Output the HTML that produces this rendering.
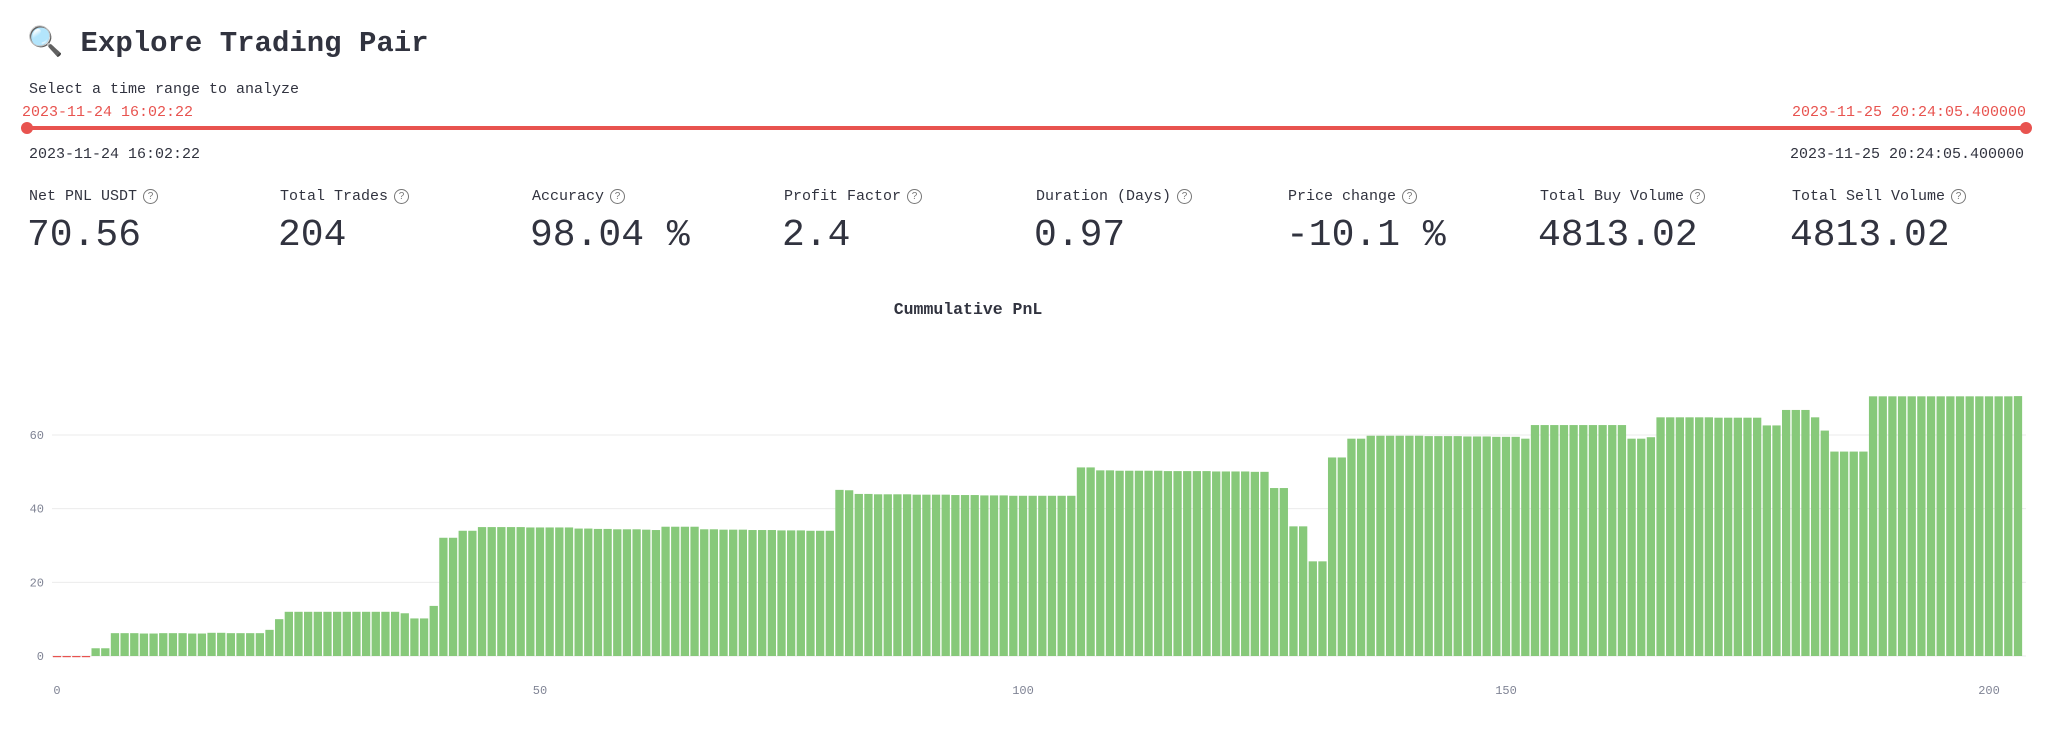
<!DOCTYPE html>
<html><head><meta charset="utf-8">
<style>
body{margin:0;background:#fff;width:2048px;height:729px;overflow:hidden;position:relative;font-family:"Liberation Mono","DejaVu Sans Mono",monospace;color:#31333f}
.abs{position:absolute;white-space:nowrap}
.lbl{font-size:15px;top:188px}
.val{font-size:38px;top:214px}
.q{display:inline-block;width:13px;height:13px;border:1.3px solid #777;border-radius:50%;font-size:10px;line-height:13px;text-align:center;color:#777;vertical-align:1px;margin-left:6px;font-family:"Liberation Sans",sans-serif}
</style></head><body>
<div class="abs" style="left:27px;top:25px;font-size:29px;font-weight:bold">🔍 Explore Trading Pair</div>
<div class="abs" style="left:29px;top:81px;font-size:15px">Select a time range to analyze</div>
<div class="abs" style="left:22px;top:104px;font-size:15px;color:#e8534f">2023-11-24 16:02:22</div>
<div class="abs" style="right:22px;top:104px;font-size:15px;color:#e8534f">2023-11-25 20:24:05.400000</div>
<div class="abs" style="left:27px;top:126px;width:1999px;height:4px;background:#e8534f"></div>
<div class="abs" style="left:21px;top:122px;width:12px;height:12px;border-radius:50%;background:#e8534f"></div>
<div class="abs" style="left:2020px;top:122px;width:12px;height:12px;border-radius:50%;background:#e8534f"></div>
<div class="abs" style="left:29px;top:146px;font-size:15px">2023-11-24 16:02:22</div>
<div class="abs" style="right:24px;top:146px;font-size:15px">2023-11-25 20:24:05.400000</div>

<div class="abs lbl" style="left:29px">Net PNL USDT<span class="q">?</span></div>
<div class="abs val" style="left:27px">70.56</div>
<div class="abs lbl" style="left:280px">Total Trades<span class="q">?</span></div>
<div class="abs val" style="left:278px">204</div>
<div class="abs lbl" style="left:532px">Accuracy<span class="q">?</span></div>
<div class="abs val" style="left:530px">98.04 %</div>
<div class="abs lbl" style="left:784px">Profit Factor<span class="q">?</span></div>
<div class="abs val" style="left:782px">2.4</div>
<div class="abs lbl" style="left:1036px">Duration (Days)<span class="q">?</span></div>
<div class="abs val" style="left:1034px">0.97</div>
<div class="abs lbl" style="left:1288px">Price change<span class="q">?</span></div>
<div class="abs val" style="left:1286px">-10.1 %</div>
<div class="abs lbl" style="left:1540px">Total Buy Volume<span class="q">?</span></div>
<div class="abs val" style="left:1538px">4813.02</div>
<div class="abs lbl" style="left:1792px">Total Sell Volume<span class="q">?</span></div>
<div class="abs val" style="left:1790px">4813.02</div>

<svg id="chart" class="abs" style="left:0;top:0" width="2048" height="729">
<text x="968" y="314" text-anchor="middle" font-size="16.5" font-weight="bold" fill="#31333f" font-family="Liberation Mono, monospace">Cummulative PnL</text>
</svg>
<script>
const categories = Array.from({length:204},(_,i)=>i);
const pnlValues = [-0.05,-0.05,-0.3,-0.3,2.1,2.1,
6.2,6.2,6.2,6.1,6.1,6.2,6.2,6.2,6.1,6.1,6.3,6.3,6.2,6.2,6.2,6.2,
7.1,10.0,
12.0,12.0,12.0,12.0,12.0,12.0,12.0,12.0,12.0,12.0,12.0,12.0,
11.6,10.2,10.2,13.6,32.1,32.1,34.0,34.0,35.0,35.0,35.0,35.0,35.0,
34.9,34.9,34.9,34.9,34.9,
34.6,34.6,34.5,34.5,34.4,34.4,34.4,34.3,34.2,
35.1,35.1,35.1,35.1,
34.4,34.4,34.3,34.3,34.3,34.2,34.2,34.2,34.1,34.1,34.1,34.0,34.0,34.0,
45.1,45.0,
44.0,44.0,43.9,43.9,43.9,43.9,43.8,43.8,43.8,43.8,43.7,43.7,43.7,43.6,43.6,43.6,43.5,43.5,
43.5,43.5,43.5,43.5,43.5,
51.2,51.2,
50.4,50.4,50.3,50.3,50.3,50.3,50.3,50.2,50.2,50.2,50.2,50.2,50.1,50.1,50.1,50.1,50.0,50.0,
45.6,45.6,35.2,35.2,25.7,25.7,53.9,53.9,59.0,59.0,
59.8,59.8,59.8,59.8,59.8,59.8,59.7,59.7,59.7,59.7,59.6,59.6,59.6,59.5,59.5,59.5,
59.0,
62.7,62.7,62.7,62.7,62.7,62.7,62.7,62.7,62.7,62.7,
59.0,59.0,59.4,
64.8,64.8,64.8,64.8,64.8,64.8,64.7,64.7,64.7,64.7,64.7,
62.6,62.6,66.8,66.8,66.8,64.8,61.2,55.5,55.5,55.5,55.5,
70.5,70.5,70.5,70.5,70.5,70.5,70.5,70.5,70.5,70.5,70.5,70.5,70.5,70.5,70.5,70.56];
const yTicks = [0,20,40,60];
const xTicks = [0,50,100,150,200];

const svg = document.getElementById('chart');
const NS = 'http://www.w3.org/2000/svg';
const xScale = v => 57 + v*(1989-57)/200;
const yScale = v => 656 - v*(656-435)/60;
const bw = 8.3;
function mk(tag, attrs){const e=document.createElementNS(NS,tag);for(const k in attrs)e.setAttribute(k,attrs[k]);svg.appendChild(e);return e;}
yTicks.forEach(t=>{
  const g = mk('line',{x1:52,x2:2026,y1:yScale(t),y2:yScale(t),stroke:'#ebebeb','stroke-width':1});
  
  
  const l = mk('text',{x:44,y:yScale(t)+4,'text-anchor':'end','font-size':12,fill:'#808495','font-family':'Liberation Mono, monospace'});
  l.textContent = t;
  
  
});
xTicks.forEach(t=>{
  const l = mk('text',{x:xScale(t),y:694,'text-anchor':'middle','font-size':12,fill:'#808495','font-family':'Liberation Mono, monospace'});
  l.textContent = t;
  
  
});
categories.forEach((c,i)=>{
  const v = pnlValues[i];
  const y0 = yScale(0), y1 = yScale(v);
  const r = mk('rect',{x:xScale(c)-bw/2,y:Math.min(y0,y1),width:bw,height:Math.max(Math.abs(y1-y0),v<0?1.2:0),fill:v<0?'#e8534f':'#87c97a'});
  
  
});
</script>
</body></html>
